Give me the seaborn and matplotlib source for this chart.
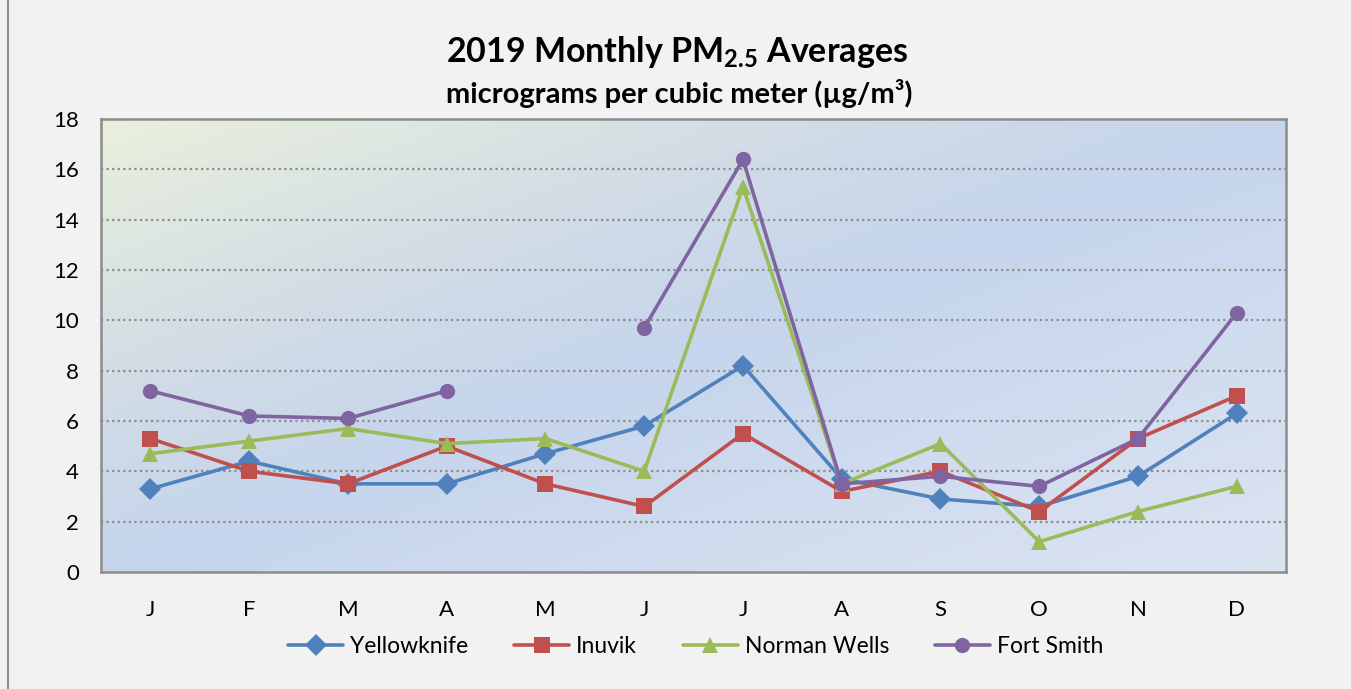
import numpy as np
import pandas as pd
import seaborn as sns
import matplotlib.pyplot as plt
from matplotlib.lines import Line2D
from matplotlib.colors import LinearSegmentedColormap

months = ["J", "F", "M", "A", "M", "J", "J", "A", "S", "O", "N", "D"]
yellowknife = [3.3, 4.4, 3.5, 3.5, 4.7, 5.8, 8.2, 3.7, 2.9, 2.6, 3.8, 6.3]
inuvik = [5.3, 4.0, 3.5, 5.0, 3.5, 2.6, 5.5, 3.2, 4.0, 2.4, 5.3, 7.0]
norman_wells = [4.7, 5.2, 5.7, 5.1, 5.3, 4.0, 15.3, 3.5, 5.1, 1.2, 2.4, 3.4]
fort_smith = [7.2, 6.2, 6.1, 7.2, np.nan, 9.7, 16.4, 3.5, 3.8, 3.4, 5.3, 10.3]

series = {
    "Yellowknife": yellowknife,
    "Inuvik": inuvik,
    "Norman Wells": norman_wells,
    "Fort Smith": fort_smith,
}
colors = {"Yellowknife": "#4F81BD", "Inuvik": "#C0504D",
          "Norman Wells": "#9BBB59", "Fort Smith": "#8064A2"}
markers = {"Yellowknife": "D", "Inuvik": "s", "Norman Wells": "^", "Fort Smith": "o"}

# long format; a missing month splits the line into separate segments
rows = []
for name, vals in series.items():
    seg = 0
    for i, v in enumerate(vals):
        if np.isnan(v):
            seg += 1
            continue
        rows.append({"station": name, "month": i, "value": v, "seg": seg})
df = pd.DataFrame(rows)

sns.set_style("white")
plt.rcParams["font.family"] = ["Lato", "DejaVu Sans"]
plt.rcParams["text.color"] = "black"
plt.rcParams["xtick.color"] = "black"
plt.rcParams["ytick.color"] = "black"
plt.rcParams["mathtext.fontset"] = "custom"
plt.rcParams["mathtext.bf"] = "Lato:bold"
plt.rcParams["mathtext.rm"] = "Lato:bold"

fig = plt.figure(figsize=(13.51, 6.89), dpi=100)
fig.patch.set_facecolor("#F2F2F2")
fig.add_artist(Line2D([0.006, 0.006], [0, 1], transform=fig.transFigure,
                      color="#8C8C8C", linewidth=1.5))
ax = fig.add_axes([0.0748, 0.170, 0.8772, 0.657])

# diagonal gradient fill of the plot area
n = 300
gx, gy = np.meshgrid(np.linspace(0, 1, n), np.linspace(0, 1, n))
t = (gx + gy) / 2
cmap = LinearSegmentedColormap.from_list(
    "bg", [(0, "#E9F0DC"), (0.3, "#D1DCE6"), (0.5, "#C6D5EC"), (1.0, "#DCE4F2")])
ax.imshow(t, cmap=cmap, extent=[-0.5, 11.5, 0, 18], aspect="auto", zorder=0,
          interpolation="bilinear", origin="upper", vmin=0, vmax=1)

for y in range(2, 18, 2):
    ax.axhline(y, color="#8C8C8C", linestyle=(0, (1, 1.5)), linewidth=1.6, zorder=1)

sns.lineplot(data=df, x="month", y="value", hue="station", style="station",
             units="seg", estimator=None, palette=colors, markers=markers,
             dashes=False, linewidth=2.6, markersize=11, markeredgewidth=0,
             sort=False, ax=ax, zorder=3, legend=False)

ax.set_xlim(-0.5, 11.5)
ax.set_ylim(0, 18)
ax.set_yticks(range(0, 19, 2))
ax.set_xticks(np.arange(-0.5, 12, 1))
ax.set_xticklabels([])
ax.set_xticks(range(12), minor=True)
ax.set_xticklabels(months, minor=True)
ax.tick_params(axis="x", which="major", length=7, width=1.5, color="#8C8C8C", direction="out")
ax.tick_params(axis="x", which="minor", length=0, labelsize=16, pad=20)
ax.tick_params(axis="y", length=7, width=1.5, color="#8C8C8C", direction="out",
               labelsize=16, pad=9)
ax.set_xlabel("")
ax.set_ylabel("")
for s in ax.spines.values():
    s.set_color("#8C8C8C")
    s.set_linewidth(1.8)
    s.set_visible(True)

fig.text(0.501, 0.925, r"2019 Monthly PM$_\mathbf{2.5}$ Averages", ha="center", va="center",
         fontsize=24.5, fontweight="bold")
fig.text(0.503, 0.864, "micrograms per cubic meter (µg/m³)", ha="center", va="center",
         fontsize=21, fontweight="bold")

handles = [Line2D([], [], color=colors[k], marker=markers[k], linewidth=2.6,
                  markersize=11, markeredgewidth=0) for k in series]
fig.legend(handles, list(series.keys()), loc="center", bbox_to_anchor=(0.515, 0.062),
           ncol=4, frameon=False, fontsize=16.5, handlelength=2.4, handletextpad=0.3,
           columnspacing=2.0)

fig.savefig("out.png", dpi=100, facecolor=fig.get_facecolor())
